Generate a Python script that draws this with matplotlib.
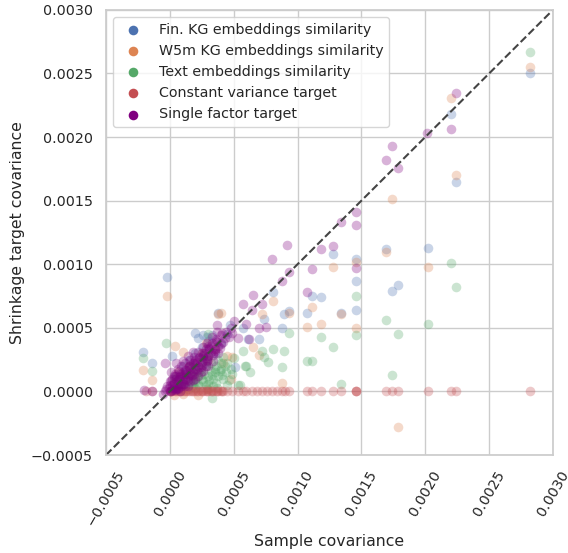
import matplotlib
matplotlib.use("Agg")
import matplotlib.pyplot as plt
import seaborn as sns

# Fin. KG embeddings similarity
fin_x = [0.00282, 0.00220, 0.00224, 0.00202, 0.00179, 0.00174, 0.00169, 0.00146, 0.00146,
         0.00146, 0.00134, 0.00128, 0.00118, 0.00111, 0.00107, 0.00093, 0.00089, 0.00088,
         0.00081, 0.00074, 0.00070, 0.00061, 0.00057, 0.00038, -0.00002, -0.00021, -0.00014,
         0.00020, 0.00022, 0.00047, 0.00051, 0.00002, 0.00026, 0.00029, 0.00005, 0.00010,
         0.00015, 0.00008, 0.00020, 0.00025, 0.00030, 0.00012, 0.00018, 0.00003, 0.00028,
         0.00035, 0.00040, 0.00045, 0.00033]
fin_y = [0.00250, 0.00218, 0.00165, 0.00113, 0.00084, 0.00079, 0.00112, 0.00104, 0.00087,
         0.00064, 0.00062, 0.00108, 0.00074, 0.00075, 0.00062, 0.00063, 0.00061, 0.00050,
         0.00078, 0.00057, 0.00041, 0.00041, 0.00050, 0.00062, 0.00090, 0.00031, 0.00022,
         0.00046, 0.00042, 0.00052, 0.00019, 0.00028, 0.00044, 0.00043, 0.00012, 0.00020,
         0.00025, 0.00005, 0.00030, 0.00035, 0.00040, 0.00015, 0.00008, 0.00003, 0.00022,
         0.00030, 0.00038, 0.00045, 0.00044]

# W5m KG embeddings similarity
w5m_x = [0.00282, 0.00220, 0.00224, 0.00202, 0.00174, 0.00179, 0.00169, 0.00146, 0.00146,
         0.00134, 0.00128, 0.00118, 0.00111, 0.00107, 0.00093, 0.00088, 0.00081, 0.00072,
         0.00065, 0.00070, 0.00049, 0.00038, 0.00040, -0.00002, -0.00021, -0.00014, 0.00004,
         0.00010, 0.00022, 0.00003, 0.00010, 0.00030, 0.00006, 0.00015, 0.00025, 0.00030,
         0.00035, 0.00020, 0.00042, 0.00045, 0.00048, 0.00028]
w5m_y = [0.00255, 0.00231, 0.00170, 0.00098, 0.00151, -0.00028, 0.00110, 0.00102, 0.00050,
         0.00061, 0.00098, 0.00053, 0.00066, 0.00051, 0.00062, 0.00007, 0.00071, 0.00061,
         0.00035, 0.00029, 0.00027, 0.00061, 0.00062, 0.00075, 0.00017, 0.00009, 0.00036,
         0.00031, -0.00003, -0.00003, -0.00002, 0.00002, 0.00015, 0.00020, 0.00030, 0.00025,
         0.00033, 0.00012, 0.00022, 0.00028, 0.00010, 0.00038]

# Text embeddings similarity
text_x = [0.00282, 0.00220, 0.00224, 0.00202, 0.00169, 0.00179, 0.00174, 0.00146, 0.00146,
          0.00134, 0.00128, 0.00118, 0.00107, 0.00111, 0.00093, 0.00089, 0.00088, 0.00081,
          0.00077, 0.00074, 0.00072, 0.00063, 0.00060, 0.00057, 0.00055, -0.00003, -0.00021,
          -0.00014, 0.00030, 0.00033, 0.00059, 0.00045, 0.00049, 0.00053, 0.00005, 0.00010,
          0.00015, 0.00020, 0.00025, 0.00030, 0.00035, 0.00040, 0.00012, 0.00018, 0.00022,
          0.00028, 0.00032, 0.00038, 0.00020, 0.00028, 0.00036, 0.00042, 0.00008, 0.00016,
          0.00026, 0.00034, 0.00024, 0.00030, 0.00044, 0.00014, 0.00004, 0.00020,
          0.00018, 0.00022, 0.00026, 0.00030, 0.00034, 0.00038, 0.00040, 0.00045, 0.00048,
          0.00050, 0.00036, 0.00032, 0.00024, 0.00016, 0.00042,
          0.00011, 0.00017, 0.00021, 0.00027, 0.00031, 0.00035, 0.00039, 0.00043, 0.00023,
          0.00029, 0.00033, 0.00037, 0.00019, 0.00025, 0.00041, 0.00046]
text_y = [0.00267, 0.00101, 0.00082, 0.00053, 0.00056, 0.00045, 0.00013, 0.00075, 0.00044,
          0.00006, 0.00035, 0.00043, 0.00024, 0.00024, 0.00046, 0.00032, 0.00019, 0.00033,
          0.00023, 0.00027, 0.00032, 0.00015, 0.00020, 0.00032, 0.00005, 0.00038, 0.00026,
          0.00016, 0.00045, -0.00005, 0.00020, 0.00022, 0.00014, 0.00005, 0.00002, 0.00004,
          0.00006, 0.00008, 0.00010, 0.00012, 0.00015, 0.00018, 0.00010, 0.00012, 0.00015,
          0.00020, 0.00022, 0.00025, 0.00003, 0.00005, 0.00007, 0.00010, 0.00008, 0.00020,
          0.00028, 0.00004, 0.00018, 0.00028, 0.00015, 0.00002, 0.00010, 0.00020,
          0.00004, 0.00006, 0.00008, 0.00006, 0.00010, 0.00012, 0.00022, 0.00005, 0.00018,
          0.00026, 0.00020, 0.00016, 0.00013, 0.00014, 0.00027,
          0.00006, 0.00007, 0.00011, 0.00014, 0.00009, 0.00018, 0.00016, 0.00020, 0.00004,
          0.00002, 0.00013, 0.00003, 0.00016, 0.00023, 0.00013, 0.00009]

# Constant variance target (all on zero)
const_x = [-0.00019, -0.00014, 0.00000, 0.00002, 0.00004, 0.00006, 0.00008, 0.00010,
           0.00012, 0.00014, 0.00016, 0.00018, 0.00020, 0.00022, 0.00024, 0.00026,
           0.00028, 0.00030, 0.00032, 0.00034, 0.00036, 0.00038, 0.00040, 0.00042,
           0.00045, 0.00049, 0.00053, 0.00057, 0.00060, 0.00064, 0.00068, 0.00072,
           0.00076, 0.00080, 0.00084, 0.00088, 0.00090, 0.00093, 0.00107, 0.00111,
           0.00118, 0.00128, 0.00134, 0.00146, 0.00146, 0.00146, 0.00169, 0.00174,
           0.00179, 0.00202, 0.00220, 0.00224, 0.00282,
           0.00001, 0.00005, 0.00009, 0.00013, 0.00017, 0.00021, 0.00025, 0.00029,
           0.00033, 0.00037, 0.00041]
const_y = [0.0] * len(const_x)

# Single factor target
single_x = [0.00224, 0.00220, 0.00201, 0.00174, 0.00169, 0.00179, 0.00146, 0.00146, 0.00134,
            0.00128, 0.00118, 0.00146, 0.00111, 0.00107, 0.00092, 0.00080, 0.00093, 0.00088,
            0.00065, 0.00057, 0.00064, 0.00072, 0.00070, 0.00075, 0.00060, 0.00049, 0.00053,
            0.00062, -0.00020, -0.00014, 0.00037, -0.00004,
            -0.00005, -0.00003, 0.00000, 0.00000, 0.00002, 0.00003, 0.00005, 0.00005,
            0.00007, 0.00008, 0.00010, 0.00010, 0.00012, 0.00013, 0.00015, 0.00015,
            0.00017, 0.00018, 0.00020, 0.00020, 0.00022, 0.00023, 0.00025, 0.00025,
            0.00027, 0.00028, 0.00030, 0.00030, 0.00032, 0.00033, 0.00035, 0.00036,
            0.00038, 0.00040, 0.00042, 0.00044, 0.00046, 0.00048, 0.00050, 0.00003,
            0.00006, 0.00010, 0.00014, 0.00018, 0.00008, 0.00012, 0.00016, 0.00020,
            0.00024, 0.00028, 0.00001, 0.00005,
            -0.00004, -0.00002, 0.00001, 0.00004, 0.00006, 0.00009, 0.00011, 0.00014,
            0.00016, 0.00019, 0.00021, 0.00024, 0.00026, 0.00029, 0.00031, 0.00034,
            0.00037, 0.00039, 0.00041, 0.00043, 0.00002, 0.00004, 0.00007, 0.00009,
            0.00012, 0.00016, 0.00019, 0.00022, 0.00026, 0.00029, 0.00033, 0.00037,
            0.00006, 0.00011, 0.00014, 0.00018, 0.00022, 0.00026, 0.00030, 0.00034,
            0.00038, 0.00003, 0.00007, 0.00013,
            -0.00001, 0.00001, 0.00003, 0.00005, 0.00007, 0.00009, 0.00011, 0.00013,
            0.00015, 0.00017, 0.00019, 0.00021, 0.00023, 0.00025, 0.00027, 0.00029,
            0.00031, 0.00034, 0.00036, 0.00040, 0.00000, 0.00002, 0.00004, 0.00006,
            0.00008, 0.00010, 0.00012, 0.00014, 0.00016, 0.00018, 0.00020, 0.00023,
            0.00026, 0.00029, 0.00032, 0.00035]
single_y = [0.00235, 0.00206, 0.00203, 0.00193, 0.00182, 0.00176, 0.00141, 0.00131, 0.00133,
            0.00114, 0.00112, 0.00097, 0.00096, 0.00078, 0.00115, 0.00104, 0.00094, 0.00087,
            0.00076, 0.00069, 0.00064, 0.00069, 0.00050, 0.00051, 0.00053, 0.00046, 0.00042,
            0.00041, 0.00001, 0.00000, 0.00052, 0.00022,
            -0.00002, 0.00002, 0.00000, 0.00005, 0.00001, 0.00006, 0.00003, 0.00010,
            0.00006, 0.00012, 0.00008, 0.00015, 0.00011, 0.00017, 0.00013, 0.00020,
            0.00016, 0.00022, 0.00018, 0.00025, 0.00020, 0.00027, 0.00023, 0.00030,
            0.00026, 0.00033, 0.00028, 0.00036, 0.00031, 0.00038, 0.00033, 0.00041,
            0.00036, 0.00044, 0.00039, 0.00047, 0.00043, 0.00050, 0.00055, 0.00012,
            0.00018, 0.00024, 0.00028, 0.00031, 0.00000, 0.00004, 0.00008, 0.00010,
            0.00015, 0.00020, 0.00015, 0.00022,
            0.00000, 0.00004, 0.00008, 0.00001, 0.00009, 0.00004, 0.00013, 0.00009,
            0.00018, 0.00014, 0.00023, 0.00019, 0.00028, 0.00024, 0.00033, 0.00029,
            0.00039, 0.00034, 0.00046, 0.00042, 0.00010, 0.00014, 0.00016, 0.00020,
            0.00022, 0.00025, 0.00027, 0.00031, 0.00035, 0.00038, 0.00043, 0.00047,
            0.00002, 0.00006, 0.00004, 0.00009, 0.00012, 0.00016, 0.00020, 0.00024,
            0.00030, 0.00003, 0.00010, 0.00014,
            0.00003, 0.00000, 0.00007, 0.00002, 0.00011, 0.00006, 0.00014, 0.00010,
            0.00019, 0.00013, 0.00022, 0.00017, 0.00026, 0.00021, 0.00030, 0.00025,
            0.00034, 0.00030, 0.00040, 0.00037, 0.00008, 0.00005, 0.00012, 0.00003,
            0.00014, 0.00006, 0.00017, 0.00011, 0.00021, 0.00015, 0.00024, 0.00019,
            0.00029, 0.00026, 0.00036, 0.00032]

series = [
    ("Fin. KG embeddings similarity", fin_x, fin_y, "#4C72B0"),
    ("W5m KG embeddings similarity", w5m_x, w5m_y, "#DD8452"),
    ("Text embeddings similarity", text_x, text_y, "#55A868"),
    ("Constant variance target", const_x, const_y, "#C44E52"),
    ("Single factor target", single_x, single_y, "purple"),
]

sns.set_theme(style="whitegrid")

fig = plt.figure(figsize=(5.68, 5.53), dpi=100)
ax = fig.add_axes([0.1866, 0.1772, 0.787, 0.805])

for label, xs, ys, color in series:
    ax.scatter(xs, ys, s=48, color=color, alpha=0.3, linewidths=0, label=label)

lims = [-0.0005, 0.0030]
ax.plot(lims, lims, color="#444444", linestyle="--", linewidth=1.5)
ax.set_xlim(lims)
ax.set_ylim(lims)

ticks = [-0.0005, 0.0, 0.0005, 0.0010, 0.0015, 0.0020, 0.0025, 0.0030]
tick_labels = [f"{t:.4f}".replace("-", "\u2212") for t in ticks]
ax.set_xticks(ticks)
ax.set_yticks(ticks)
ax.set_xticklabels(tick_labels, rotation=60, fontsize=10.3)
ax.set_yticklabels(tick_labels, fontsize=10.3)

ax.set_xlabel("Sample covariance", fontsize=11.3)
ax.set_ylabel("Shrinkage target covariance", fontsize=11.3)

leg = ax.legend(loc="upper left", fontsize=10.3)
for h in leg.legend_handles:
    h.set_alpha(1)

fig.savefig("out.png", dpi=100)
